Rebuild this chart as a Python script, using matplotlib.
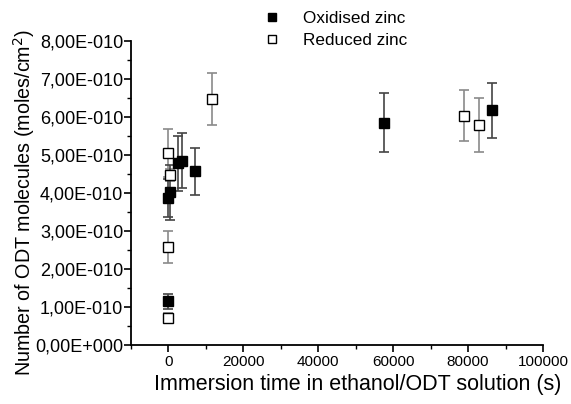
import matplotlib
matplotlib.use("Agg")
import matplotlib.pyplot as plt
from matplotlib.ticker import FuncFormatter, MultipleLocator

plt.rcParams['font.family'] = ['Liberation Sans', 'DejaVu Sans']

# Oxidised zinc (filled squares)
ox_time = [0, 0, 500, 2500, 3600, 7200, 57600, 86400]
ox_val = [1.15e-10, 3.88e-10, 4.02e-10, 4.78e-10, 4.85e-10, 4.57e-10, 5.85e-10, 6.18e-10]
ox_err = [0.2e-10, 0.5e-10, 0.72e-10, 0.72e-10, 0.72e-10, 0.62e-10, 0.77e-10, 0.72e-10]

# Reduced zinc (open squares)
red_time = [0, 0, 300, 0, 11500, 79000, 82800]
red_val = [0.72e-10, 2.57e-10, 4.47e-10, 5.06e-10, 6.47e-10, 6.03e-10, 5.79e-10]
red_err = [0.13e-10, 0.42e-10, 0.15e-10, 0.63e-10, 0.68e-10, 0.67e-10, 0.71e-10]

x_ticks = [0, 20000, 40000, 60000, 80000, 100000]

fig = plt.figure(figsize=(5.71, 4.04), dpi=100)
ax = fig.add_axes([0.2294, 0.146, 0.7216, 0.7525])

ax.errorbar(red_time, red_val, yerr=red_err, fmt='none', ecolor='#8a8a8a',
            elinewidth=1.2, capsize=3.5, capthick=1.2, zorder=2)
ax.errorbar(ox_time, ox_val, yerr=ox_err, fmt='none', ecolor='#444444',
            elinewidth=1.2, capsize=3.5, capthick=1.2, zorder=2)
ax.plot(ox_time, ox_val, 's', ms=7, mfc='black', mec='black', mew=1,
        ls='none', label='Oxidised zinc', zorder=3)
ax.plot(red_time, red_val, 's', ms=7, mfc='white', mec='black', mew=1,
        ls='none', label='Reduced zinc', zorder=3)

ax.set_xlim(-10000, 100000)
ax.set_ylim(0, 8e-10)
ax.set_xticks(x_ticks)
ax.xaxis.set_minor_locator(MultipleLocator(10000))
ax.yaxis.set_major_locator(MultipleLocator(1e-10))
ax.yaxis.set_minor_locator(MultipleLocator(0.5e-10))

def yfmt(v, pos):
    if abs(v) < 1e-20:
        return '0,00E+000'
    s = '%.2E' % v
    mant, exp = s.split('E')
    e = int(exp)
    sign = '-' if e < 0 else '+'
    return '%sE%s%03d' % (mant.replace('.', ','), sign, abs(e))

ax.yaxis.set_major_formatter(FuncFormatter(yfmt))
ax.yaxis.offsetText.set_visible(False)
ax.xaxis.offsetText.set_visible(False)

for sp in ['top', 'right']:
    ax.spines[sp].set_visible(False)
for sp in ['left', 'bottom']:
    ax.spines[sp].set_linewidth(1.3)

ax.tick_params(axis='both', which='major', direction='out', length=5, width=1.2,
               labelsize=11, pad=2)
ax.tick_params(axis='both', which='minor', direction='out', length=3, width=1.0)
ax.tick_params(axis='y', which='major', labelsize=13, pad=0.5)

ax.set_xlabel('Immersion time in ethanol/ODT solution (s)', fontsize=15.5)
ax.xaxis.set_label_coords(0.551, -0.095)
ax.set_ylabel('Number of ODT molecules (moles/cm$^2$)', fontsize=14.2)
ax.yaxis.set_label_coords(-0.228, 0.47)

ax.legend(loc='upper center', bbox_to_anchor=(0.485, 1.15), frameon=False,
          fontsize=12.3, handletextpad=0.8, labelspacing=0.4, markerscale=0.9)

fig.savefig('out.png', dpi=100)
